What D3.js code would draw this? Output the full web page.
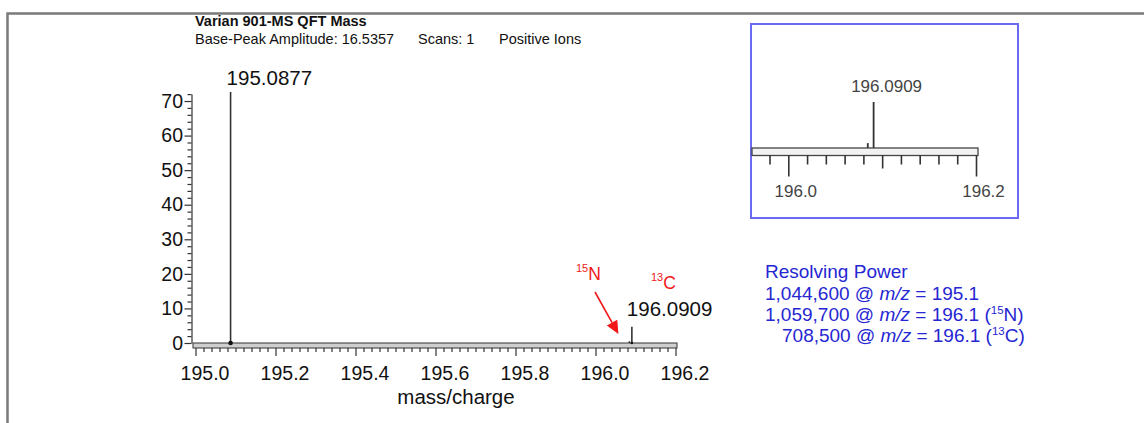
<!DOCTYPE html>
<html><head><meta charset="utf-8">
<script src="https://cdn.jsdelivr.net/npm/d3@7"></script>
<style>
html,body{margin:0;padding:0;background:#fff;}
svg{display:block;font-family:Arial,"Liberation Sans",sans-serif;}
</style></head>
<body>
<svg id="c" width="1144" height="423"></svg>
<script>
// ---- data ----
const peakMz = [195.0877, 196.0847, 196.0909];
const peakIntensity = [72.6, 0.5, 4.7];
const peakLabelIdx = [0, 2];
const yMajorTicks = [0, 10, 20, 30, 40, 50, 60, 70];
const xMajorTicks = [195.0, 195.2, 195.4, 195.6, 195.8, 196.0, 196.2];
const insetMajorTicks = [196.0, 196.2];
const headerTitle = "Varian 901-MS QFT Mass";
const headerItems = ["Base-Peak Amplitude: 16.5357", "Scans: 1", "Positive Ions"];
const rpValues = ["1,044,600", "1,059,700", "708,500"];
const rpMz = ["195.1", "196.1", "196.1"];
const rpIsoMass = ["", "15", "13"];
const rpIsoElem = ["", "N", "C"];

const svg = d3.select("#c");
const FONT = 'Arial,"Liberation Sans",sans-serif';

// frame
svg.append("path").attr("d","M7.5,423V13.5H1144").attr("fill","none").attr("stroke","#7a7a7a").attr("stroke-width",2.5);

// header
svg.append("text").attr("x",195).attr("y",26).attr("font-size",14.5).attr("font-weight","bold").attr("fill","#111").text(headerTitle);
const hx = [195, 418, 499];
headerItems.forEach((t,i)=>svg.append("text").attr("x",hx[i]).attr("y",44).attr("font-size",14.5).attr("fill","#111").text(t));

// ---- main chart ----
const x = d3.scaleLinear().domain([195.0,196.2]).range([195.5,675.5]);
const y = d3.scaleLinear().domain([0,72]).range([343,343-72*3.457]);
const fmt1 = d3.format(".1f");

// y axis
const gy = svg.append("g").attr("transform","translate(191.5,0)");
gy.call(d3.axisLeft(y).tickValues(yMajorTicks).tickSize(7).tickSizeOuter(0).tickPadding(1.5).tickFormat(d3.format("d")));
gy.selectAll("text").attr("font-size",19.5).attr("font-family",FONT).attr("fill","#111");
gy.selectAll("line,path").attr("stroke","#333").attr("stroke-width",1.2);
const yMinor = d3.range(0,73,2).filter(v=>v%10!==0);
const gym = svg.append("g").attr("transform","translate(191.5,0)");
gym.call(d3.axisLeft(y).tickValues(yMinor).tickSize(4).tickFormat(""));
gym.select(".domain").remove();
gym.selectAll("line").attr("stroke","#333").attr("stroke-width",1.2);

// x baseline band
svg.append("rect").attr("x",193).attr("y",y(0)).attr("width",677-193).attr("height",5)
  .attr("fill","#cfcfcf").attr("stroke","#444").attr("stroke-width",1.1);

// x axis
const gx = svg.append("g").attr("transform",`translate(0,${y(0)+5})`);
gx.call(d3.axisBottom(x).tickValues(xMajorTicks).tickSize(8).tickPadding(10).tickFormat(fmt1));
gx.select(".domain").remove();
gx.selectAll("line").attr("stroke","#333").attr("stroke-width",1.2);
gx.selectAll("text").attr("font-size",19.5).attr("font-family",FONT).attr("fill","#111").attr("dx",9);
const xMinor = d3.range(0,61).map(i=>195+i*0.02).filter(v=>!xMajorTicks.some(m=>Math.abs(m-v)<1e-6));
const gxm = svg.append("g").attr("transform",`translate(0,${y(0)+5})`);
gxm.call(d3.axisBottom(x).tickValues(xMinor).tickSize(4).tickFormat(""));
gxm.select(".domain").remove();
gxm.selectAll("line").attr("stroke","#333").attr("stroke-width",1.2);

svg.append("text").attr("x",456).attr("y",404).attr("text-anchor","middle").attr("font-size",20.5).attr("fill","#111").text("mass/charge");

// peaks
svg.selectAll("line.peak").data(peakMz).join("line").attr("class","peak")
  .attr("x1",d=>x(d)).attr("x2",d=>x(d)).attr("y1",y(0)).attr("y2",(d,i)=>y(peakIntensity[i]))
  .attr("stroke","#333").attr("stroke-width",1.6);
svg.append("circle").attr("cx",x(peakMz[0])).attr("cy",y(0)).attr("r",2.3).attr("fill","#111");
svg.append("circle").attr("cx",x(peakMz[2])).attr("cy",y(0)).attr("r",1.3).attr("fill","#111");
// peak labels
const labOff = [[-4,-7],[-5,-11]];
peakLabelIdx.forEach((pi,k)=>{
  svg.append("text").attr("x",x(peakMz[pi])+labOff[k][0]).attr("y",y(peakIntensity[pi])+labOff[k][1])
    .attr("font-size",20.5).attr("fill","#111").text(peakMz[pi].toFixed(4));
});

// red annotations
const red = "#f01818";
const tN = svg.append("text").attr("x",576).attr("y",280).attr("fill",red);
tN.append("tspan").attr("font-size",11).attr("dy",-8).text(rpIsoMass[1]);
tN.append("tspan").attr("font-size",17.5).attr("dy",8).text(rpIsoElem[1]);
const tC = svg.append("text").attr("x",651).attr("y",289).attr("fill",red);
tC.append("tspan").attr("font-size",11).attr("dy",-8).text(rpIsoMass[2]);
tC.append("tspan").attr("font-size",17.5).attr("dy",8).text(rpIsoElem[2]);
// arrow
const T = [x(peakMz[1])-11, y(0)-9], S = [595, 292];
const dxA = T[0]-S[0], dyA = T[1]-S[1], L = Math.hypot(dxA,dyA), u=[dxA/L,dyA/L], p=[-u[1],u[0]];
const B = [T[0]-13*u[0], T[1]-13*u[1]];
svg.append("line").attr("x1",S[0]).attr("y1",S[1]).attr("x2",B[0]).attr("y2",B[1]).attr("stroke",red).attr("stroke-width",1.6);
svg.append("path").attr("d",`M${T}L${B[0]+6*p[0]},${B[1]+6*p[1]}L${B[0]-6*p[0]},${B[1]-6*p[1]}Z`).attr("fill",red);

// ---- resolving power block ----
const blue = "#2626d2";
const rp = svg.append("g").attr("fill",blue).attr("font-size",19);
rp.append("text").attr("x",765).attr("y",278).text("Resolving Power");
const rpX = [765,765,782], rpY = [300,321,342];
rpValues.forEach((v,i)=>{
  const t = rp.append("text").attr("x",rpX[i]).attr("y",rpY[i]);
  t.append("tspan").text(v+" @ ");
  t.append("tspan").attr("font-style","italic").text("m/z");
  t.append("tspan").text(" = "+rpMz[i]+(rpIsoMass[i]?" (":""));
  if(rpIsoMass[i]){
    t.append("tspan").attr("font-size",11.5).attr("dy",-7).text(rpIsoMass[i]);
    t.append("tspan").attr("dy",7).text(rpIsoElem[i]+")");
  }
});

// ---- inset ----
svg.append("rect").attr("x",751).attr("y",24).attr("width",267).attr("height",194)
  .attr("fill","none").attr("stroke","#6a6af2").attr("stroke-width",2);
const xi = d3.scaleLinear().domain([196.0,196.2]).range([788.3,976]);
const yi = d3.scaleLinear().domain([0,4.7]).range([148,102]);
svg.append("rect").attr("x",752).attr("y",yi(0)).attr("width",978-752).attr("height",7.5)
  .attr("fill","#f2f2f2").attr("stroke","#444").attr("stroke-width",1.3);
const giy = yi(0)+7.5;
const iMinor = d3.range(-1,11).map(i=>196+i*0.02).filter(v=>!insetMajorTicks.some(m=>Math.abs(m-v)<1e-6) && Math.abs(v-196.1)>1e-6);
const gim = svg.append("g").attr("transform",`translate(0,${giy})`);
gim.call(d3.axisBottom(xi).tickValues(iMinor).tickSize(9).tickFormat(""));
gim.select(".domain").remove();
const gimid = svg.append("g").attr("transform",`translate(0,${giy})`);
gimid.call(d3.axisBottom(xi).tickValues([196.1]).tickSize(13).tickFormat(""));
gimid.select(".domain").remove();
const giM = svg.append("g").attr("transform",`translate(0,${giy})`);
giM.call(d3.axisBottom(xi).tickValues(insetMajorTicks).tickSize(21).tickPadding(8.5).tickFormat(fmt1));
giM.select(".domain").remove();
giM.selectAll("text").attr("font-size",17).attr("font-family",FONT).attr("fill","#444").attr("dx",7);
[gim,gimid,giM].forEach(g=>g.selectAll("line").attr("stroke","#333").attr("stroke-width",1.6));
svg.selectAll("line.ipeak").data(peakMz.slice(1)).join("line").attr("class","ipeak")
  .attr("x1",d=>xi(d)).attr("x2",d=>xi(d)).attr("y1",yi(0)).attr("y2",(d,i)=>yi(peakIntensity[i+1]))
  .attr("stroke","#333").attr("stroke-width",1.8);
svg.append("text").attr("x",xi(peakMz[2])+13).attr("y",yi(peakIntensity[2])-10).attr("text-anchor","middle")
  .attr("font-size",17).attr("fill","#444").text(peakMz[2].toFixed(4));
</script>
</body></html>
